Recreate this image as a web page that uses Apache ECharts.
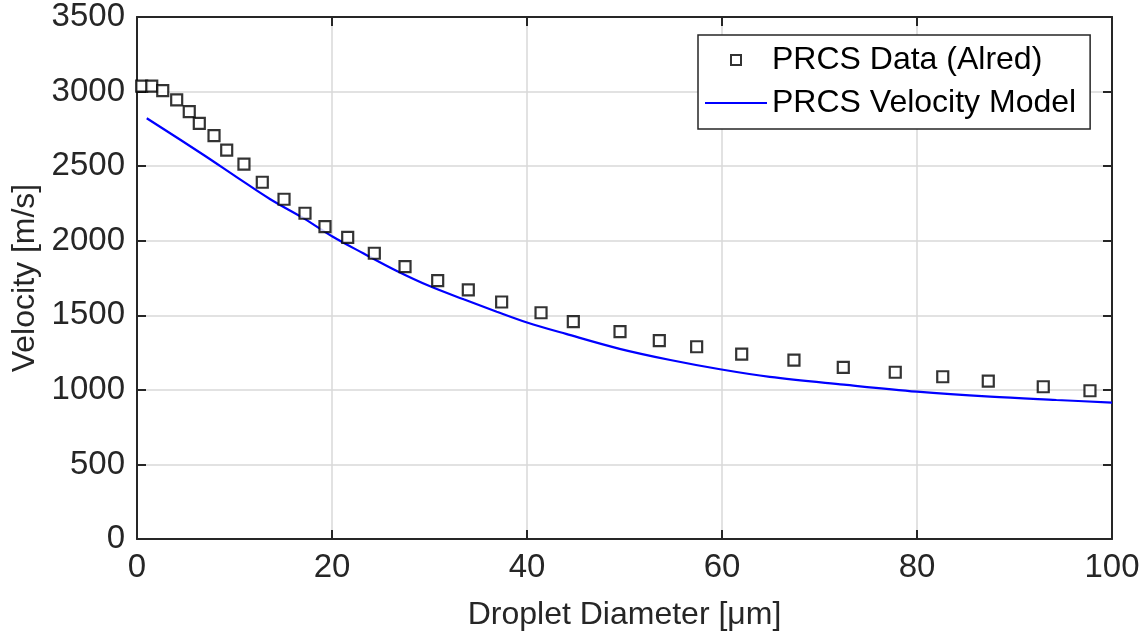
<!DOCTYPE html>
<html>
<head>
<meta charset="utf-8">
<script src="https://cdn.jsdelivr.net/npm/echarts@6/dist/echarts.min.js"></script>
<style>
  html, body { margin: 0; padding: 0; background: #fff; }
  #chart1 { width: 1143px; height: 634px; }
</style>
</head>
<body>
<div id="chart1"></div>
<script>
// measured points (Alred)
var dataX = [0.48, 1.51, 2.64, 4.07, 5.36, 6.39, 7.90, 9.20, 10.97, 12.85, 15.08, 17.23, 19.28, 21.61,
    24.34, 27.49, 30.84, 33.98, 37.40, 41.44, 44.75, 49.54, 53.57, 57.40, 62.02, 67.38, 72.44,
    77.77, 82.64, 87.31, 92.95, 97.74];
var dataY = [3037, 3037, 3006, 2944, 2865, 2787, 2704, 2608, 2514, 2392, 2278, 2184, 2094, 2023,
    1916, 1826, 1732, 1670, 1589, 1517, 1457, 1390, 1330, 1289, 1240, 1200, 1151,
    1118, 1088, 1059, 1021, 994];

// velocity model curve
var modelX = [1, 6.84, 10.26, 13.67, 17.1, 20, 23.2, 26.6, 30, 33.5, 36.9, 40, 44, 49.5,
    54.7, 59.8, 64.9, 72.5, 80, 87.5, 94.3, 100];
var modelY = [2821, 2575, 2425, 2278, 2150, 2030, 1916, 1799, 1696, 1607, 1524, 1452, 1375, 1275,
    1200, 1138, 1087, 1035, 988, 954, 932, 915];

var xTicks = [0, 20, 40, 60, 80, 100];
var yTicks = [0, 500, 1000, 1500, 2000, 2500, 3000, 3500];

var seriesNames = ['PRCS Data (Alred)', 'PRCS Velocity Model'];

var font = 'Liberation Sans, Arial, Helvetica, sans-serif';
var axisColor = '#262626';

var chart = echarts.init(document.getElementById('chart1'));

function pairs(xs, ys) {
    var out = [];
    for (var i = 0; i < xs.length; i++) {
        out.push([xs[i], ys[i]]);
    }
    return out;
}

function frameAxis(pos, min, max, interval, main) {
    return {
        type: 'value',
        position: pos,
        min: min,
        max: max,
        interval: interval,
        axisLine: { show: true, onZero: false, lineStyle: { color: axisColor, width: 2 } },
        axisTick: { show: true, inside: true, length: 9, lineStyle: { color: axisColor, width: 2 } },
        axisLabel: {
            show: main,
            color: axisColor,
            fontFamily: font,
            fontSize: 33,
            margin: 12,
            formatter: function (v) { return String(v); }
        },
        splitLine: { show: main, lineStyle: { color: '#d9d9d9', width: 1.5 } }
    };
}

var xMain = frameAxis('bottom', xTicks[0], xTicks[xTicks.length - 1], xTicks[1] - xTicks[0], true);
xMain.name = 'Droplet Diameter [\u03bcm]';
xMain.nameLocation = 'middle';
xMain.nameGap = 60;
xMain.nameTextStyle = { color: axisColor, fontFamily: font, fontSize: 32 };

var yMain = frameAxis('left', yTicks[0], yTicks[yTicks.length - 1], yTicks[1] - yTicks[0], true);
yMain.name = 'Velocity [m/s]';
yMain.nameLocation = 'middle';
yMain.nameGap = 96;
yMain.nameTextStyle = { color: axisColor, fontFamily: font, fontSize: 32 };

var option = {
    animation: false,
    backgroundColor: '#fff',
    grid: { left: 137, right: 31, top: 17, bottom: 95, containLabel: false, outerBoundsMode: 'none' },
    xAxis: [xMain, frameAxis('top', xTicks[0], xTicks[xTicks.length - 1], xTicks[1] - xTicks[0], false)],
    yAxis: [yMain, frameAxis('right', yTicks[0], yTicks[yTicks.length - 1], yTicks[1] - yTicks[0], false)],
    legend: {
        orient: 'vertical',
        left: 698,
        top: 35,
        align: 'left',
        padding: [9, 14, 10, 7],
        itemWidth: 62,
        itemHeight: 10,
        itemGap: 11,
        itemTextGap: 6,
        borderColor: axisColor,
        borderWidth: 1.5,
        backgroundColor: '#fff',
        textStyle: { color: '#000', fontFamily: font, fontSize: 32, lineHeight: 30 },
        data: [
            {
                name: seriesNames[0],
                icon: 'path://M0,0L10,0L10,10L0,10Z',
                itemStyle: { color: '#fff', borderColor: '#000', borderWidth: 2 }
            },
            {
                name: seriesNames[1],
                icon: 'path://M0,0L62,0L62,2L0,2Z',
                itemStyle: { color: '#0000ff', borderWidth: 0 }
            }
        ]
    },
    series: [
        {
            name: seriesNames[0],
            type: 'scatter',
            symbol: 'rect',
            symbolSize: 11,
            itemStyle: { color: '#fff', borderColor: '#000', borderWidth: 2.2 },
            data: pairs(dataX, dataY),
            z: 3
        },
        {
            name: seriesNames[1],
            type: 'line',
            smooth: 0.35,
            symbol: 'none',
            lineStyle: { color: '#0000ff', width: 2.2 },
            itemStyle: { color: '#0000ff' },
            data: pairs(modelX, modelY),
            z: 2
        }
    ]
};

chart.setOption(option);
</script>
</body>
</html>
